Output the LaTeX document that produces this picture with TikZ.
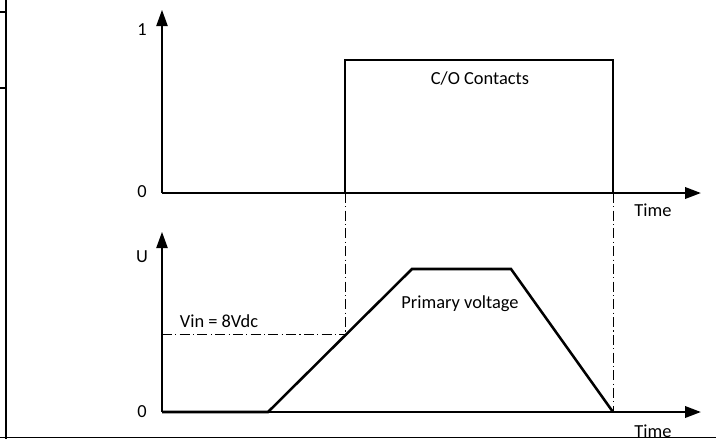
\documentclass[tikz,border=0pt]{standalone}
\usepackage{fontspec}
\setmainfont{Carlito}
\usetikzlibrary{arrows.meta}
\tikzset{
  px/.style={x=0.75pt,y=-0.75pt},
  axis/.style={line width=0.9pt,-{Triangle[length=12pt,width=8.5pt]}},
  signal/.style={line width=1.9pt,line join=miter},
  guide/.style={line width=0.7pt,dash pattern=on 7.5pt off 2.5pt on 0.8pt off 2.5pt},
  frameline/.style={line width=2.2pt},
  lbl/.style={font=\fontsize{13.8pt}{16pt}\selectfont,inner sep=0pt,anchor=base},
  sigarrow/.style={line width=1.9pt,-{Triangle[length=12pt,width=8.5pt]}}
}
\begin{document}
\begin{tikzpicture}[px]
\useasboundingbox (0,0) rectangle (716,439);
% frame remnants
\coordinate (fT) at (6,0);
\coordinate (fB) at (6,439);
\draw[frameline] (fT) -- (fB);
\coordinate (s1a) at (0,12); \coordinate (s1b) at (6,12);
\coordinate (s2a) at (0,88); \coordinate (s2b) at (6,88);
\draw[line width=1.6pt] (s1a) -- (s1b);
\draw[line width=1.6pt] (s2a) -- (s2b);
\coordinate (bL) at (0,437.5); \coordinate (bR) at (716,437.5);
\draw[line width=1.3pt] (bL) -- (bR);

% upper plot coordinates
\coordinate (uO) at (162,193);
\coordinate (uY) at (162,10);
\coordinate (uX) at (701,193);
\coordinate (uR1) at (345,193);
\coordinate (uR1t) at (345,60);
\coordinate (uR2t) at (613,60);
\coordinate (uR2) at (613,193);
% upper axes
\draw[axis] (uO) -- (uY);
\draw[line width=0.9pt] (uO) -- (uR2);
\draw[signal] (uO) -- (uR1) -- (uR1t) -- (uR2t) -- (uR2);
\draw[sigarrow] (uR2) -- (uX);

% lower plot coordinates
\coordinate (lO) at (162,412);
\coordinate (lY) at (162,232);
\coordinate (lX) at (701,412);
\coordinate (lA) at (268,412);
\coordinate (lB) at (412,269);
\coordinate (lC) at (511,269);
\coordinate (lD) at (613,412);
\coordinate (lV) at (162,334);
\coordinate (lVr) at (345,334);
\draw[axis] (lO) -- (lY);
\draw[line width=0.9pt] (lO) -- (lD);
\draw[signal] (lO) -- (lA) -- (lB) -- (lC) -- (lD);
\draw[sigarrow] (lD) -- (lX);

% guides
\draw[guide] (uR1) -- (lVr);
\draw[guide] (uR2) -- (lD);
\draw[guide] (lV) -- (lVr);

% labels
\node[lbl] (one) at (142,35) {1};
\node[lbl] (zeroU) at (142,197) {0};
\node[lbl] (co) at (480,84) {C/O Contacts};
\node[lbl] (timeU) at (653,216) {Time};
\node[lbl] (U) at (142,262) {U};
\node[lbl] (zeroL) at (142,417) {0};
\node[lbl] (vin) at (219,327) {Vin = 8Vdc};
\node[lbl] (prim) at (460,308) {Primary voltage};
\node[lbl] (timeL) at (653,437) {Time};
\end{tikzpicture}
\end{document}
